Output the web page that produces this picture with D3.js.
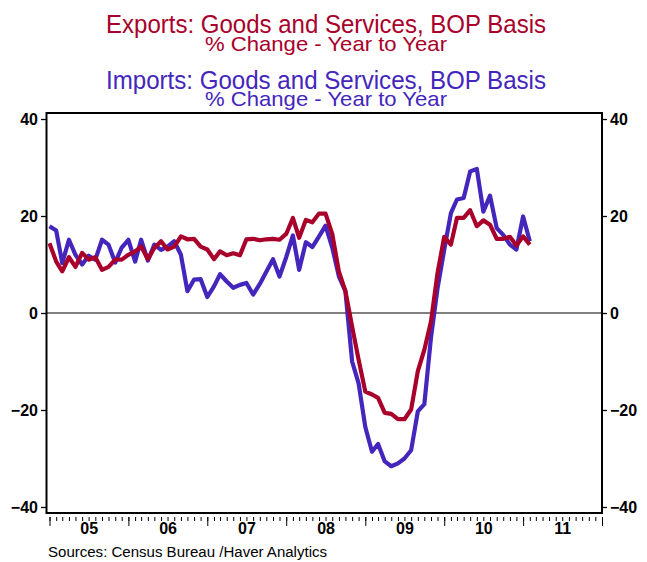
<!DOCTYPE html>
<html lang="en">
<head>
<meta charset="utf-8">
<title>Exports and Imports</title>
<script src="https://d3js.org/d3.v7.min.js"></script>
<style>
  body { margin: 0; background: #fff; }
  svg text { font-family: "Liberation Sans", Arial, sans-serif; }
</style>
</head>
<body>
<script>
// monthly, Jan 2005 .. Feb 2011, % change year to year
const exportsYoY = [
  14.4, 10.6, 8.6, 11.5, 9.5, 12.4, 11.0, 11.5, 8.9, 9.5, 11.0, 11.0,
  12.0, 12.7, 13.7, 11.1, 13.4, 14.8, 13.1, 13.7, 15.8, 15.2, 15.3, 13.7,
  13.1, 11.1, 12.7, 11.9, 12.3, 11.9, 15.2, 15.3, 15.0, 15.2, 15.3, 15.1,
  16.3, 19.6, 15.5, 19.2, 18.7, 20.5, 20.5, 16.3, 8.5, 4.5, -2.8, -9.6,
  -16.2, -16.8, -17.5, -20.6, -20.8, -21.9, -21.9, -19.9, -12.0, -7.6, -1.7, 8.2,
  15.7, 14.1, 19.6, 19.6, 21.2, 17.9, 19.1, 18.2, 15.3, 15.3, 15.7, 13.9,
  15.8, 14.1
];
const importsYoY = [
  17.9, 17.0, 10.3, 15.1, 12.0, 10.0, 11.8, 11.0, 15.1, 14.1, 10.4, 13.5,
  15.1, 10.6, 15.1, 10.8, 14.1, 13.0, 13.7, 14.8, 12.0, 4.5, 6.9, 7.0,
  3.3, 5.5, 8.0, 6.5, 5.2, 5.8, 6.2, 3.8, 6.0, 8.5, 11.1, 7.5,
  11.5, 16.0, 8.9, 14.6, 13.6, 15.8, 18.0, 13.5, 7.5, 4.5, -10.0, -14.5,
  -23.5, -28.6, -27.0, -30.6, -31.6, -31.0, -30.0, -28.3, -20.3, -18.8, -5.0, 5.0,
  13.0, 20.6, 23.4, 23.7, 29.2, 29.7, 20.9, 24.2, 17.5, 16.1, 14.1, 13.1,
  19.9, 14.8
];
const yTicks = [-40, -20, 0, 20, 40];
const years = [2005, 2006, 2007, 2008, 2009, 2010, 2011];
const titles = [
  "Exports: Goods and Services, BOP Basis",
  "% Change - Year to Year",
  "Imports: Goods and Services, BOP Basis",
  "% Change - Year to Year"
];
const source = "Sources:  Census Bureau /Haver Analytics";

const w = 647, h = 562;
const red = "#a8002a", blue = "#4426bc";

const svg = d3.select("body").append("svg")
  .attr("width", w).attr("height", h);

const x = d3.scaleTime()
  .domain([new Date(2005, 0, 1), new Date(2012, 0, 1)])
  .range([49.5, 602]);
const y = d3.scaleLinear().domain([-41.24, 41.24]).range([513, 113]);

// titles
const titleStyle = [
  {c: red, s: 26, b: 33, len: 440},
  {c: red, s: 21, b: 51, len: 242},
  {c: blue, s: 26, b: 89, len: 440},
  {c: blue, s: 21, b: 106, len: 242}
];
svg.append("g").selectAll("text")
  .data(titles)
  .join("text")
  .attr("x", 326)
  .attr("y", (d, i) => titleStyle[i].b)
  .attr("text-anchor", "middle")
  .attr("fill", (d, i) => titleStyle[i].c)
  .attr("font-size", (d, i) => titleStyle[i].s)
  .attr("textLength", (d, i) => titleStyle[i].len)
  .attr("lengthAdjust", "spacingAndGlyphs")
  .text(d => d);

// y axes
const yl = svg.append("g").attr("transform", "translate(46,0)")
  .call(d3.axisLeft(y).tickValues(yTicks).tickSize(5).tickPadding(3));
const yr = svg.append("g").attr("transform", "translate(602,0)")
  .call(d3.axisRight(y).tickValues(yTicks).tickSize(5).tickPadding(3));
[yl, yr].forEach(g => {
  g.select(".domain").remove();
  g.selectAll("line").attr("stroke", "#000").attr("stroke-width", 1.3);
  g.selectAll("text").attr("font-size", 16).attr("font-weight", "bold")
    .attr("font-family", "'Liberation Sans', Arial, sans-serif").attr("fill", "#000");
});

// x axis: month ticks, year ticks, year labels
const xMinor = svg.append("g").attr("transform", "translate(0,517)")
  .call(d3.axisBottom(x).ticks(d3.timeMonth.every(1)).tickSize(4).tickFormat(""));
const xMajor = svg.append("g").attr("transform", "translate(0,517)")
  .call(d3.axisBottom(x).tickValues(d3.range(2005, 2013).map(yr => new Date(yr, 0, 1)))
    .tickSize(9).tickFormat(""));
const xLab = svg.append("g").attr("transform", "translate(0,519)")
  .call(d3.axisBottom(x).tickValues(years.map(yr => new Date(yr, 6, 1)))
    .tickSize(0).tickPadding(4).tickFormat(d3.timeFormat("%y")));
[xMinor, xMajor, xLab].forEach(g => {
  g.select(".domain").remove();
  g.selectAll("line").attr("stroke", "#000").attr("stroke-width", 1);
});
xLab.selectAll("text").attr("font-size", 16).attr("font-weight", "bold")
  .attr("font-family", "'Liberation Sans', Arial, sans-serif").attr("fill", "#000");

// frame and zero line
svg.append("rect")
  .attr("x", 46.5).attr("y", 113).attr("width", 555.5).attr("height", 400)
  .attr("fill", "none").attr("stroke", "#000").attr("stroke-width", 2);
svg.append("line")
  .attr("x1", 46.5).attr("x2", 602).attr("y1", y(0)).attr("y2", y(0))
  .attr("stroke", "#000").attr("stroke-width", 1);

// series
const line = d3.line()
  .x((d, i) => x(new Date(2005, i, 1)))
  .y(d => y(d))
  .curve(d3.curveLinear);
svg.append("path").datum(importsYoY)
  .attr("d", line).attr("fill", "none")
  .attr("stroke", blue).attr("stroke-width", 4.2).attr("stroke-linejoin", "round");
svg.append("path").datum(exportsYoY)
  .attr("d", line).attr("fill", "none")
  .attr("stroke", red).attr("stroke-width", 4.2).attr("stroke-linejoin", "round");

// source note
svg.append("text")
  .attr("x", 48).attr("y", 557)
  .attr("font-size", 15.5)
  .attr("textLength", 279).attr("lengthAdjust", "spacingAndGlyphs")
  .attr("fill", "#000")
  .text(source);
</script>
</body>
</html>
